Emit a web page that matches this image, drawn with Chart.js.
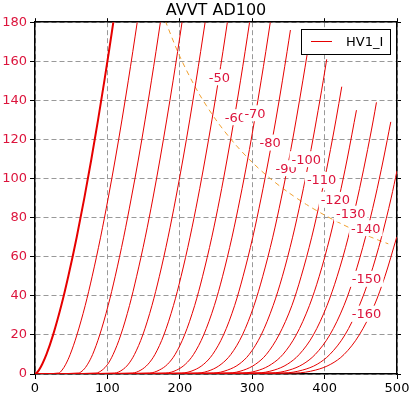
<!DOCTYPE html>
<html>
<head>
<meta charset="utf-8">
<script src="https://cdn.jsdelivr.net/npm/chart.js@4.4.1/dist/chart.umd.min.js"></script>
<style>
  html, body { margin: 0; padding: 0; background: #fff; }
  canvas { display: block; }
</style>
</head>
<body>
<canvas id="plateChart" width="417" height="395"></canvas>
<script>
// Plate curves Ia(Va), one per grid voltage, points are [Va (V), Ia (mA)]
const g0   = [[0,0],[2.1,0.5],[5.4,2],[9.9,5],[15.8,10],[25,20],[36.3,35],[46,50],[57.6,70],[68.1,90],[77.9,110],[87.1,130],[95.8,150],[102.1,165],[108.2,180]];
const g10  = [[0,0],[32.7,0.5],[37.4,2],[42.5,5],[48.6,10],[57.9,20],[69.3,35],[79,50],[90.6,70],[101.1,90],[110.9,110],[120.1,130],[128.8,150],[135.1,165],[141.2,180]];
const g20  = [[0,0],[59.8,0.5],[66.6,2],[72.7,5],[79.6,10],[89.4,20],[101,35],[110.8,50],[122.5,70],[133,90],[142.9,110],[152.1,130],[160.8,150],[167.1,165],[173.2,180]];
const g30  = [[0,0],[84.4,0.5],[92.8,2],[100.4,5],[107.9,10],[118.5,20],[130.5,35],[140.4,50],[152.3,70],[162.9,90],[172.7,110],[181.9,130],[190.7,150],[197,165],[203.1,180]];
const g40  = [[0,0],[110,0.5],[120.2,2],[128.9,5],[137.4,10],[148.9,20],[161.5,35],[171.8,50],[183.8,70],[194.5,90],[204.4,110],[213.7,130],[222.5,150],[228.8,165],[235,180]];
const g50  = [[0,0],[134.3,0.5],[146.2,2],[156.1,5],[165.7,10],[178,20],[191.2,35],[201.8,50],[214.1,70],[225,90],[235,110],[244.4,130],[253.2,150],[259.6,165],[265.7,180]];
const g60  = [[0,0],[158.5,0.5],[171.6,2],[183.1,5],[193.5,10],[206.6,20],[220.5,35],[231.5,50],[244.2,70],[255.3,90],[265.4,110],[274.9,130],[283.8,150],[290.2,165],[296.4,180]];
const g70  = [[0,0],[180.7,0.5],[195.7,2],[207.7,5],[219,10],[233,20],[247.7,35],[259.1,50],[272.1,70],[283.4,90],[293.8,110],[303.3,130],[312.3,150],[318.8,165],[325,180]];
const g80  = [[0,0],[202.8,0.5],[219.7,2],[233,5],[245.3,10],[260.4,20],[275.7,35],[287.4,50],[300.8,70],[312.3,90],[322.8,110],[332.6,130],[341.7,150],[348.2,165],[352.8,176]];
const g90  = [[0,0],[225,0.5],[242.9,2],[257.1,5],[270.5,10],[286.5,20],[302.5,35],[314.6,50],[328.4,70],[340.2,90],[350.9,110],[360.7,130],[369.9,150],[376.1,164]];
const g100 = [[0,0],[246.5,0.5],[265.9,2],[281.8,5],[295.8,10],[312.4,20],[328.9,35],[341.7,50],[355.8,70],[367.9,90],[378.8,110],[388.7,130],[398.1,150],[402.9,161]];
const g110 = [[0,0],[268,0.5],[288.3,2],[304.6,5],[319.5,10],[337,20],[354.8,35],[367.7,50],[382.2,70],[394.5,90],[405.6,110],[415.7,130],[423.7,147]];
const g120 = [[0,0],[287,0.5],[309.7,2],[326.6,5],[342.4,10],[360.8,20],[379,35],[392.6,50],[407.4,70],[419.9,90],[431.2,110],[444,135]];
const g130 = [[0,0],[306.5,0.5],[330.3,2],[348.6,5],[365,10],[384.5,20],[403.3,35],[417.4,50],[432.7,70],[445.4,90],[456.8,110],[467.3,130],[471.6,139]];
const g140 = [[0,0],[326,0.5],[351,2],[370,5],[387,10],[407.2,20],[426.7,35],[441,50],[456.5,70],[469.7,90],[481.3,110],[491.4,129]];
const g150 = [[0,0],[343.5,0.5],[369.5,2],[389.8,5],[407.2,10],[428.1,20],[448,35],[462.8,50],[478.6,70],[491.9,90],[500,104]];
const g160 = [[0,0],[359.5,0.5],[387.4,2],[408.5,5],[426.9,10],[447.9,20],[468.5,35],[483.4,50],[499.6,70]];

const curves = [g0, g10, g20, g30, g40, g50, g60, g70, g80, g90, g100, g110, g120, g130, g140, g150, g160];
const gridVolts = [0, -10, -20, -30, -40, -50, -60, -70, -80, -90, -100, -110, -120, -130, -140, -150, -160];

// max plate dissipation (orange dashes)
const dissV = [180, 200, 225, 250, 275, 300, 325, 350, 375, 400, 425, 450, 475, 488];
const dissI = [180.6, 162.5, 144.4, 130, 118.2, 108.3, 100, 92.9, 86.7, 81.3, 76.5, 72.2, 68.4, 66.6];

// inline curve labels
const labelText = ['-50', '-60', '-70', '-80', '-90', '-100', '-110', '-120', '-130', '-140', '-150', '-160'];
const labelV = [254.7, 276.7, 303.9, 324.8, 347, 374.7, 395.9, 414.9, 436.1, 457, 458, 458];
const labelI = [151.8, 131.4, 133.4, 118.4, 105.3, 109.9, 99.3, 89.1, 82, 74.6, 48.7, 30.8];

const curveRed = '#e60000';
const textRed = '#dc143c';

Chart.defaults.font.family = "'DejaVu Sans', sans-serif";
Chart.defaults.font.size = 13;

let datasets = curves.map((pts, i) => ({
    label: i === 0 ? 'HV1_I' : 'Vg ' + gridVolts[i],
    data: pts.map(p => ({ x: p[0], y: p[1] })),
    borderColor: curveRed,
    borderWidth: i === 0 ? 2 : 1,
    pointRadius: 0,
    showLine: true,
    cubicInterpolationMode: 'monotone',
    fill: false
}));

datasets.push({
    label: 'Pa max',
    data: dissV.map((v, k) => ({ x: v, y: dissI[k] })),
    borderColor: '#f0a030',
    borderWidth: 1,
    borderDash: [5, 4],
    pointRadius: 0,
    showLine: true,
    tension: 0.3,
    fill: false
});

// labels on the curves, white box behind like clabel
const curveLabels = {
    id: 'curveLabels',
    afterDatasetsDraw(chart) {
        const ctx = chart.ctx;
        const xs = chart.scales.x, ys = chart.scales.y;
        ctx.save();
        ctx.font = "13px 'DejaVu Sans'";
        ctx.textAlign = 'center';
        ctx.textBaseline = 'middle';
        labelText.forEach((txt, k) => {
            const px = xs.getPixelForValue(labelV[k]);
            const py = ys.getPixelForValue(labelI[k]);
            const w = ctx.measureText(txt).width;
            ctx.fillStyle = '#fff';
            ctx.fillRect(px - w / 2 - 2, py - 8, w + 4, 16);
            ctx.fillStyle = textRed;
            ctx.fillText(txt, px, py + 1);
        });
        ctx.restore();
    }
};

// legend box in the upper right corner
const legendBox = {
    id: 'legendBox',
    afterDraw(chart) {
        const { ctx, chartArea } = chart;
        const w = 89, h = 25;
        const x = Math.round(chartArea.right - 7 - w);
        const y = Math.round(chartArea.top + 7);
        ctx.save();
        ctx.fillStyle = '#fff';
        ctx.fillRect(x, y, w, h);
        ctx.strokeStyle = '#000';
        ctx.lineWidth = 1;
        ctx.strokeRect(x + 0.5, y + 0.5, w, h);
        ctx.strokeStyle = curveRed;
        ctx.beginPath();
        ctx.moveTo(x + 10, y + 12.5);
        ctx.lineTo(x + 31, y + 12.5);
        ctx.stroke();
        ctx.fillStyle = '#000';
        ctx.font = "13px 'DejaVu Sans'";
        ctx.textBaseline = 'middle';
        ctx.fillText(chart.data.datasets[0].label, x + 45, y + 13.5);
        ctx.restore();
    }
};

const whiteBg = {
    id: 'whiteBg',
    beforeDraw(chart) {
        const ctx = chart.ctx;
        ctx.save();
        ctx.fillStyle = '#fff';
        ctx.fillRect(0, 0, chart.width, chart.height);
        ctx.restore();
    }
};

const ctx = document.getElementById('plateChart').getContext('2d');
new Chart(ctx, {
    type: 'scatter',
    data: { datasets: datasets },
    options: {
        responsive: false,
        animation: false,
        layout: { padding: 0 },
        plugins: {
            legend: { display: false },
            tooltip: { enabled: false },
            title: {
                display: true,
                text: 'AVVT AD100',
                color: '#000',
                fullSize: false,
                font: { size: 16, weight: 'normal' },
                padding: { top: 1, bottom: 2 }
            }
        },
        scales: {
            x: {
                type: 'linear', position: 'bottom', min: 0, max: 500,
                ticks: { stepSize: 100, color: '#000', padding: 2, maxRotation: 0 },
                grid: { color: '#999', tickColor: '#000', tickLength: 5 },
                border: { color: '#000', width: 1.5, dash: [5, 3] },
                afterFit: s => { s.height = 21; }
            },
            y: {
                type: 'linear', position: 'left', min: 0, max: 180,
                ticks: { stepSize: 20, color: textRed, padding: 3 },
                grid: { color: '#999', tickColor: '#000', tickLength: 5 },
                border: { color: '#000', width: 1.5, dash: [5, 3] },
                afterFit: s => { s.width = 35; }
            },
            x2: {
                type: 'linear', position: 'top', min: 0, max: 500,
                ticks: { stepSize: 100, display: false },
                grid: { drawOnChartArea: false, tickColor: '#000', tickLength: 4 },
                border: { color: '#000', width: 1.5 },
                afterFit: s => { s.height = 0; }
            },
            y2: {
                type: 'linear', position: 'right', min: 0, max: 180,
                ticks: { stepSize: 20, display: false },
                grid: { drawOnChartArea: false, tickColor: '#000', tickLength: 4 },
                border: { color: '#000', width: 1.5 },
                afterFit: s => { s.width = 20; }
            }
        }
    },
    plugins: [whiteBg, curveLabels, legendBox]
});
</script>
</body>
</html>
